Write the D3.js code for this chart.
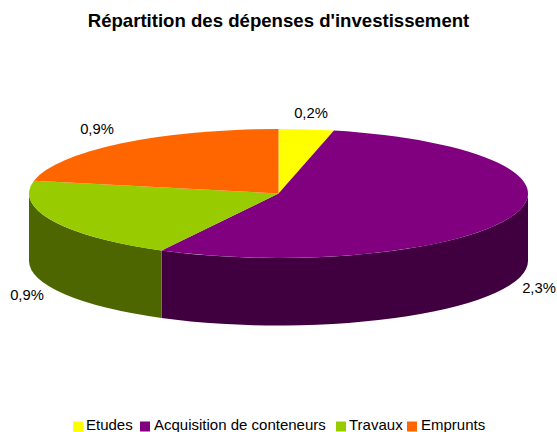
<!DOCTYPE html>
<html><head><meta charset="utf-8">
<style>html,body{margin:0;padding:0;background:#fff}svg{display:block}text{font-family:"Liberation Sans",Arial,sans-serif;fill:#000}</style>
<script src="https://cdn.jsdelivr.net/npm/d3@7"></script></head>
<body><script>
const categories = ["Etudes","Acquisition de conteneurs","Travaux","Emprunts"];
const values = [0.152,2.31,0.87,0.93];
const colors = ["#ffff00","#800080","#99cc00","#ff6600"];
const sideColors = ["#808000","#400040","#4d6600","#803300"];
const titleText = "Répartition des dépenses d'investissement";

const W=557,H=432,cx=278.5,cy=193.5,rx=249.5,ry=64.5,depth=67.5,k=ry/rx;
const svg=d3.select("body").append("svg").attr("width",W).attr("height",H);
svg.append("text").attr("x",278.5).attr("y",27).attr("text-anchor","middle")
  .attr("font-size",18.6).attr("font-weight","bold").text(titleText);

const pie=d3.pie().sort(null).value(d=>d)(values);
const g=svg.append("g").attr("transform",`translate(${cx},${cy}) scale(1,${k})`);
const arc=d3.arc().innerRadius(0).outerRadius(rx);
const d3y=depth/k;
// d3.path angles are measured from +x; pie angles from 12 o'clock
function wall(a0,a1){
  const p=d3.path(),t=-Math.PI/2;
  p.moveTo(rx*Math.cos(a0+t),rx*Math.sin(a0+t));
  p.arc(0,0,rx,a0+t,a1+t,false);
  p.lineTo(rx*Math.cos(a1+t),rx*Math.sin(a1+t)+d3y);
  p.arc(0,d3y,rx,a1+t,a0+t,true);
  p.closePath();
  return p.toString();
}
pie.forEach((s,i)=>{
  const a0=Math.max(s.startAngle,Math.PI/2),a1=Math.min(s.endAngle,Math.PI*1.5);
  if(a1>a0) g.append("path").attr("d",wall(a0,a1)).attr("fill",sideColors[i]);
});
g.selectAll("path.top").data(pie).join("path").attr("class","top")
  .attr("d",arc).attr("fill",(d,i)=>colors[i]);

const fmt=v=>v.toFixed(1).replace(".",",")+"%";
const labelX=[311,539,27,97],labelY=[118,293,300,134];
values.forEach((v,i)=>{
  svg.append("text").attr("x",labelX[i]).attr("y",labelY[i]).attr("text-anchor","middle")
    .attr("font-size",14.8).text(fmt(v));
});
const legSq=[73,140,336,407],legTx=[86,154,349,421];
categories.forEach((c,i)=>{
  svg.append("rect").attr("x",legSq[i]).attr("y",421.5).attr("width",10).attr("height",10).attr("fill",colors[i]);
  svg.append("text").attr("x",legTx[i]).attr("y",430).attr("font-size",15).text(c);
});
</script></body></html>
